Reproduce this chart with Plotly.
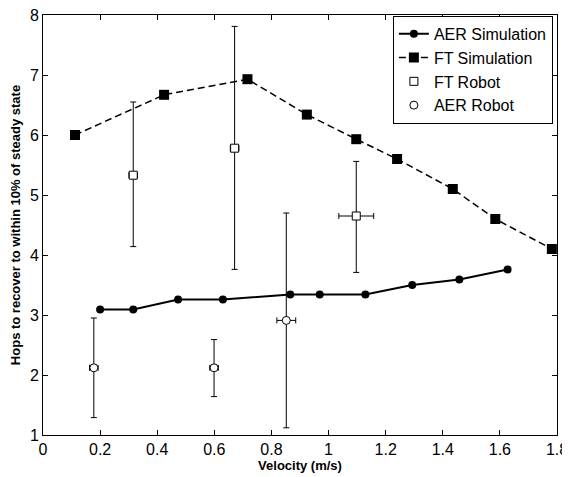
import plotly.graph_objects as go

# AER Simulation
aer_sim_x = [0.20, 0.316, 0.473, 0.630, 0.866, 0.969, 1.129, 1.293, 1.458, 1.627]
aer_sim_y = [3.09, 3.09, 3.26, 3.26, 3.34, 3.34, 3.34, 3.50, 3.59, 3.76]

# FT Simulation
ft_sim_x = [0.112, 0.424, 0.716, 0.924, 1.097, 1.240, 1.435, 1.584, 1.782]
ft_sim_y = [6.00, 6.67, 6.93, 6.34, 5.93, 5.60, 5.10, 4.60, 4.10]

# FT Robot
ft_rob_x = [0.316, 0.671, 1.097]
ft_rob_y = [5.33, 5.78, 4.65]
ft_rob_ey_plus = [1.22, 2.03, 0.91]
ft_rob_ey_minus = [1.19, 2.02, 0.94]
ft_rob_ex = [0.015, 0.015, 0.061]

# AER Robot
aer_rob_x = [0.178, 0.599, 0.852]
aer_rob_y = [2.12, 2.12, 2.91]
aer_rob_ey_plus = [0.83, 0.47, 1.79]
aer_rob_ey_minus = [0.83, 0.48, 1.79]
aer_rob_ex = [0.015, 0.015, 0.033]

x_ticks = [0, 0.2, 0.4, 0.6, 0.8, 1, 1.2, 1.4, 1.6, 1.8]
x_tick_labels = ["0", "0.2", "0.4", "0.6", "0.8", "1", "1.2", "1.4", "1.6", "1.8"]
y_ticks = [1, 2, 3, 4, 5, 6, 7, 8]

FONT = "Arial, Liberation Sans"

fig = go.Figure()

fig.add_trace(go.Scatter(
    x=aer_sim_x, y=aer_sim_y, mode="lines+markers", name="AER Simulation",
    line=dict(color="black", width=2),
    marker=dict(symbol="circle", size=8, color="black"),
))
fig.add_trace(go.Scatter(
    x=ft_sim_x, y=ft_sim_y, mode="lines+markers", name="FT Simulation",
    line=dict(color="black", width=1.5, dash="7px,4px"),
    marker=dict(symbol="square", size=10, color="black"),
))
fig.add_trace(go.Scatter(
    x=ft_rob_x, y=ft_rob_y, mode="markers", name="FT Robot",
    marker=dict(symbol="square", size=8, color="white", line=dict(width=1, color="black")),
    error_y=dict(type="data", symmetric=False, array=ft_rob_ey_plus,
                 arrayminus=ft_rob_ey_minus, color="black", thickness=1, width=3),
    error_x=dict(type="data", array=ft_rob_ex, color="black", thickness=1, width=3),
))
fig.add_trace(go.Scatter(
    x=aer_rob_x, y=aer_rob_y, mode="markers", name="AER Robot",
    marker=dict(symbol="circle", size=8, color="white", line=dict(width=1, color="black")),
    error_y=dict(type="data", symmetric=False, array=aer_rob_ey_plus,
                 arrayminus=aer_rob_ey_minus, color="black", thickness=1, width=3),
    error_x=dict(type="data", array=aer_rob_ex, color="black", thickness=1, width=3),
))

axis_common = dict(
    showgrid=False, zeroline=False, showline=True, linecolor="black", linewidth=1,
    mirror="ticks", ticks="inside", ticklen=5, tickcolor="black", automargin=False,
    ticklabeloverflow="allow",
    tickfont=dict(family=FONT, size=16, color="black"),
)

fig.update_xaxes(range=[0, 1.8], tickvals=x_ticks, ticktext=x_tick_labels,
                 title=dict(text="<b>Velocity (m/s)</b>", standoff=0,
                            font=dict(family=FONT, size=13, color="black")),
                 **axis_common)
fig.update_yaxes(range=[1, 8], tickvals=y_ticks,
                 title=dict(text="<b>Hops to recover to within 10% of steady state</b>", standoff=10,
                            font=dict(family=FONT, size=13, color="black")),
                 **axis_common)

fig.update_layout(
    width=570, height=477,
    margin=dict(l=35, r=21, t=7, b=50),
    paper_bgcolor="white", plot_bgcolor="white",
    font=dict(family=FONT, color="black"),
    legend=dict(x=0.992, y=0.998, xanchor="right", yanchor="top",
                bgcolor="white", bordercolor="black", borderwidth=1,
                font=dict(size=16, family=FONT, color="black"),
                tracegroupgap=0, itemwidth=30),
    showlegend=True,
)

fig.write_html("out.html")
